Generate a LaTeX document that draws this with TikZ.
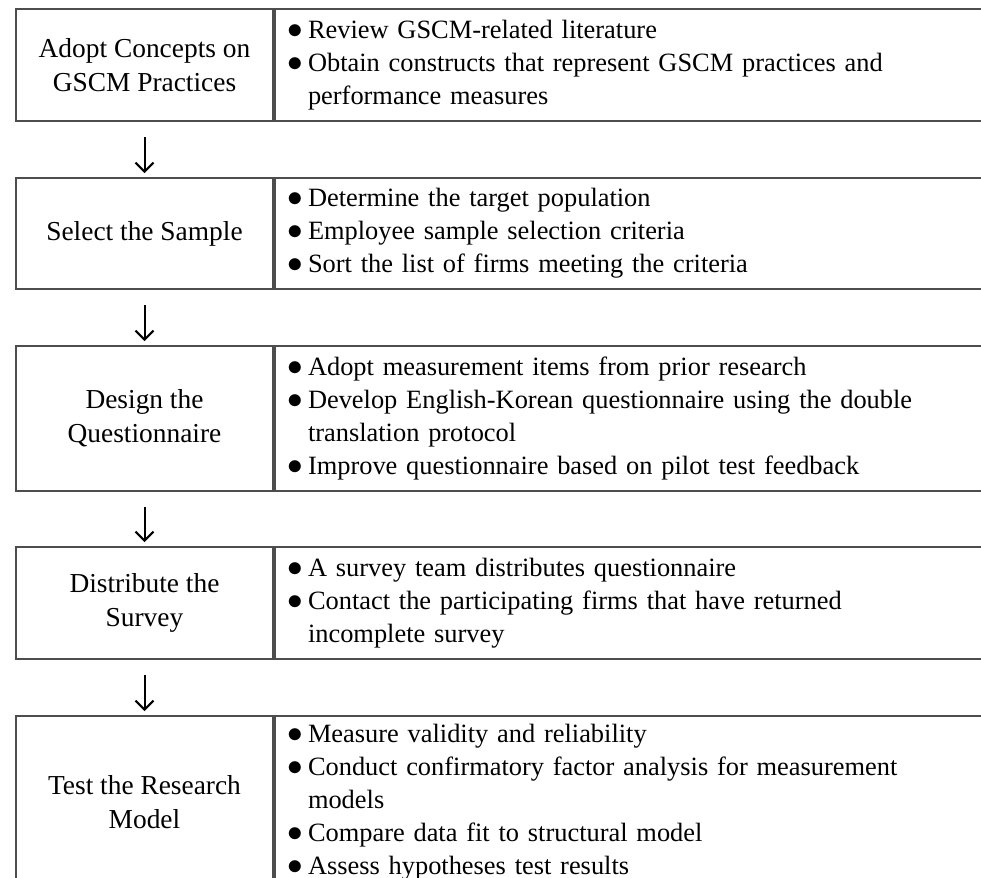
\documentclass[tikz,border=0pt]{standalone}
\usepackage{fontspec}
\setmainfont{Liberation Serif}
\usetikzlibrary{positioning,arrows.meta}
\definecolor{boxgray}{RGB}{77,77,77}
\newcommand{\bitem}{\makebox[10.3pt][l]{\scalebox{1.3}{$\bullet$}}}
\newcommand{\bcont}{\hspace*{10.3pt}}
\tikzset{
    stage/.style={rectangle, draw=boxgray, line width=1pt, minimum width=128.5pt, align=center, inner sep=0pt, font=\fontsize{13.7}{17}\selectfont},
    tasks/.style={rectangle, draw=boxgray, line width=1pt, text width=380pt, inner xsep=6.2pt, inner ysep=0pt, align=left, font=\fontsize{13.2}{16.5}\selectfont},
    flow/.style={line width=1pt, -{Straight Barb[length=4.5pt,width=9pt]}, shorten <=7.5pt, shorten >=2pt},
}
\begin{document}
\begin{tikzpicture}[x=0.5pt,y=-0.5pt]
    \useasboundingbox (0,0) rectangle (981,878);
    \clip (0,0) rectangle (981,878);

    % Stages
    \node[stage, minimum height=56pt, anchor=north west] (s1) at (15,8) {Adopt Concepts on\\GSCM Practices};
    \node[stage, minimum height=55.5pt, below=27.5pt of s1] (s2) {Select the Sample};
    \node[stage, minimum height=72.5pt, below=27.5pt of s2] (s3) {Design the\\Questionnaire};
    \node[stage, minimum height=56pt, below=27pt of s3] (s4) {Distribute the\\Survey};
    \node[stage, minimum height=86pt, below=27.5pt of s4] (s5) {Test the Research\\Model};

    % Tasks
    \node[tasks, minimum height=56pt, right=0pt of s1] (t1) {\bitem Review GSCM-related literature\\
        \bitem Obtain constructs that represent GSCM practices and\\
        \bcont performance measures};
    \node[tasks, minimum height=55.5pt, right=0pt of s2] (t2) {\bitem Determine the target population\\
        \bitem Employee sample selection criteria\\
        \bitem Sort the list of firms meeting the criteria};
    \node[tasks, minimum height=72.5pt, right=0pt of s3] (t3) {\bitem Adopt measurement items from prior research\\
        \bitem Develop English-Korean questionnaire using the double\\
        \bcont translation protocol\\
        \bitem Improve questionnaire based on pilot test feedback};
    \node[tasks, minimum height=56pt, right=0pt of s4] (t4) {\bitem A survey team distributes questionnaire\\
        \bitem Contact the participating firms that have returned\\
        \bcont incomplete survey};
    \node[tasks, minimum height=86pt, right=0pt of s5] (t5) {\bitem Measure validity and reliability\\
        \bitem Conduct confirmatory factor analysis for measurement\\
        \bcont models\\
        \bitem Compare data fit to structural model\\
        \bitem Assess hypotheses test results};

    % Arrows
    \foreach \a/\b in {s1/s2, s2/s3, s3/s4, s4/s5}
        \draw[flow] (\a) -- (\b);
\end{tikzpicture}
\end{document}
